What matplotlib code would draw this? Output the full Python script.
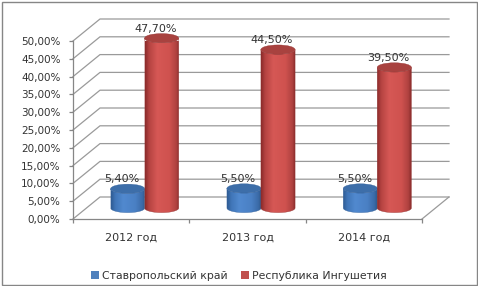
import matplotlib.pyplot as plt
import numpy as np
from matplotlib.colors import to_rgb
from matplotlib.patches import Ellipse, Patch, Polygon, Rectangle

years = ["2012 год", "2013 год", "2014 год"]
stavropol = [5.4, 5.5, 5.5]
ingushetia = [47.7, 44.5, 39.5]
series_names = ["Ставропольский край", "Республика Ингушетия"]
y_ticks = np.arange(0, 55, 5)

plt.rcParams.update({"font.family": "DejaVu Sans", "font.size": 8.0})
text_color = "#333333"
grid_color = "#9a9a9a"
axis_color = "#868686"

# oblique "3d" depth of the plot box, in data units
DX, DY = 0.232, 6.18
bar_w = 0.147  # half width of a cylinder
ell = 1.3  # half height of the cylinder ellipses

fig = plt.figure(figsize=(4.78, 2.86), dpi=100)
ax = fig.add_axes([73 / 478, 67 / 286, 349 / 478, 178 / 286])
ax.set_autoscale_on(False)
ax.set_xlim(-0.5, 2.5)
ax.set_ylim(0, 50)


def shade(stops, n=64):
    pos = [p for p, _ in stops]
    cols = np.array([to_rgb(c) for _, c in stops])
    xs = np.linspace(0, 1, n)
    return np.stack([np.interp(xs, pos, cols[:, k]) for k in range(3)], axis=-1)[None]


blue_body = shade([(0, "#2f5c94"), (0.12, "#4076b8"), (0.35, "#5189cf"),
                   (0.7, "#4a80c4"), (0.9, "#3b6ba8"), (1, "#2d5688")])
red_body = shade([(0, "#8c2c2b"), (0.12, "#b64442"), (0.35, "#d65855"),
                  (0.7, "#cf524f"), (0.9, "#b04240"), (1, "#852928")])
styles = [
    {"body": blue_body, "top": "#3d6ea9", "edge": "#34619a"},
    {"body": red_body, "top": "#a8423f", "edge": "#953634"},
]


def cylinder(x, v, st, z):
    X = x + 0.5 * DX
    base = 0.5 * DY
    top = v + base
    t = np.linspace(0, np.pi, 60)
    upper = np.column_stack([X - bar_w * np.cos(t), top - ell * np.sin(t)])
    lower = np.column_stack([X + bar_w * np.cos(t), base - ell * np.sin(t)])
    poly = Polygon(np.vstack([upper, lower]), closed=True, fc="none",
                   ec=st["edge"], lw=0.25, zorder=z + 0.1, clip_on=False)
    ax.add_patch(poly)
    im = ax.imshow(st["body"], extent=[X - bar_w, X + bar_w, base - ell, top + ell],
                   aspect="auto", zorder=z, interpolation="bilinear")
    im.set_clip_path(poly)
    ax.add_patch(Ellipse((X, top), 2 * bar_w, 2 * ell, fc=st["top"],
                         ec=st["edge"], lw=0.25, zorder=z + 0.2, clip_on=False))
    ax.text(X - 0.052, top + ell + 1.4, f"{v:.2f}%".replace(".", ","),
            ha="center", va="center", color=text_color, zorder=10, clip_on=False)


# walls: left side and back gridlines, floor
for v in y_ticks:
    ax.plot([-0.5, -0.5 + DX, 2.5 + DX], [v, v + DY, v + DY],
            color=grid_color, lw=0.9, zorder=1, clip_on=False)
ax.plot([2.5, 2.5 + DX], [0, DY], color=grid_color, lw=0.9, zorder=1, clip_on=False)

for i in range(len(years)):
    cylinder(i - 0.146, stavropol[i], styles[0], 3 + 2 * i)
    cylinder(i + 0.146, ingushetia[i], styles[1], 4 + 2 * i)

for s in ["top", "right"]:
    ax.spines[s].set_visible(False)
for s in ["left", "bottom"]:
    ax.spines[s].set_color(axis_color)
    ax.spines[s].set_linewidth(0.9)
ax.set_facecolor("none")

ax.set_yticks(y_ticks, labels=[f"{v:.2f}%".replace(".", ",") for v in y_ticks])
ax.set_xticks([-0.5, 0.5, 1.5, 2.5], labels=[""] * 4)
ax.set_xticks(range(len(years)), labels=years, minor=True)
ax.tick_params(axis="y", length=3, width=0.9, color=axis_color, pad=6,
               labelcolor=text_color, labelsize=7.5)
ax.tick_params(axis="x", which="major", length=3, width=0.9, color=axis_color)
ax.tick_params(axis="x", which="minor", length=0, pad=9.5, labelcolor=text_color)

handles = [Patch(fc="#4f81bd", ec="none", label=series_names[0]),
           Patch(fc="#c0504d", ec="none", label=series_names[1])]
leg = fig.legend(handles=handles, ncol=2, loc="center", bbox_to_anchor=(0.5, 0.036),
                 frameon=False, handlelength=0.7, handleheight=0.7,
                 handletextpad=0.3, columnspacing=1.2, fontsize=7.8)
for txt in leg.get_texts():
    txt.set_color(text_color)

fig.patches.append(Rectangle((1.5 / 478, 1.5 / 286), 475 / 478, 283 / 286,
                             transform=fig.transFigure, fill=False,
                             ec=axis_color, lw=1))

fig.savefig("out.png", dpi=100)
